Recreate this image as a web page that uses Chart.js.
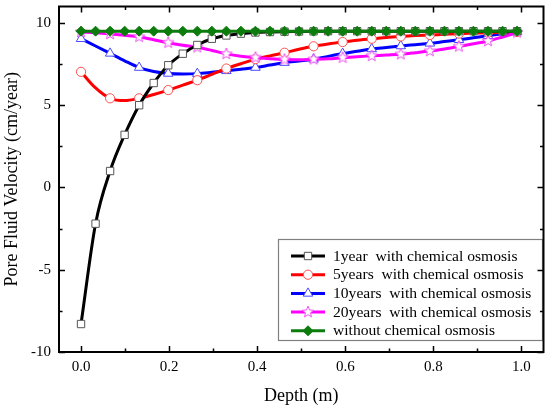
<!DOCTYPE html>
<html>
<head>
<meta charset="utf-8">
<script src="https://cdn.jsdelivr.net/npm/chart.js@4.4.0/dist/chart.umd.min.js"></script>
<style>
  html, body { margin: 0; padding: 0; background: #fff; }
  #wrap { width: 550px; height: 409px; position: relative; }
</style>
</head>
<body>
<div id="wrap"><canvas id="chart"></canvas></div>
<script>
// depth (m) of every sample
const depth = [0, 0.033, 0.066, 0.099, 0.132, 0.165, 0.198, 0.231, 0.264, 0.297,
  0.33, 0.363, 0.396, 0.429, 0.462, 0.495, 0.528, 0.561, 0.594, 0.627,
  0.66, 0.693, 0.726, 0.759, 0.792, 0.825, 0.858, 0.891, 0.924, 0.957, 0.99];

// pore fluid velocity (cm/year)
const year1 = [-8.3, -2.2, 1.0, 3.2, 5.0, 6.35, 7.43, 8.13, 8.66, 9.04,
  9.24, 9.35, 9.42, 9.45, 9.47, 9.48, 9.49, 9.5, 9.5, 9.5,
  9.5, 9.5, 9.5, 9.5, 9.5, 9.5, 9.5, 9.5, 9.5, 9.5, 9.5];
const year5 = [7.03, 6.05, 5.42, 5.28, 5.42, 5.65, 5.92, 6.22, 6.52, 6.87,
  7.23, 7.52, 7.8, 8.0, 8.19, 8.4, 8.58, 8.72, 8.84, 8.95,
  9.04, 9.12, 9.18, 9.23, 9.27, 9.31, 9.35, 9.38, 9.41, 9.43, 9.45];
const year10 = [9.04, 8.6, 8.15, 7.7, 7.29, 7.05, 6.93, 6.9, 6.92, 7.0,
  7.09, 7.19, 7.29, 7.44, 7.59, 7.69, 7.79, 7.97, 8.14, 8.28,
  8.42, 8.51, 8.6, 8.68, 8.76, 8.87, 8.98, 9.1, 9.22, 9.34, 9.45];
const year20 = [9.45, 9.4, 9.33, 9.25, 9.16, 8.98, 8.8, 8.65, 8.52, 8.33,
  8.12, 7.98, 7.9, 7.83, 7.78, 7.77, 7.79, 7.82, 7.89, 7.95,
  8.0, 8.05, 8.1, 8.19, 8.29, 8.42, 8.57, 8.73, 8.9, 9.15, 9.42];
const noOsmosis = [9.5, 9.5, 9.5, 9.5, 9.5, 9.5, 9.5, 9.5, 9.5, 9.5,
  9.5, 9.5, 9.5, 9.5, 9.5, 9.5, 9.5, 9.5, 9.5, 9.5,
  9.5, 9.5, 9.5, 9.5, 9.5, 9.5, 9.5, 9.5, 9.5, 9.5, 9.5];

const legendLabels = [
  "1year  with chemical osmosis",
  "5years  with chemical osmosis",
  "10years  with chemical osmosis",
  "20years  with chemical osmosis",
  "without chemical osmosis"
];

const xTicks = [0, 0.2, 0.4, 0.6, 0.8, 1.0];
const xMinor = [0.1, 0.3, 0.5, 0.7, 0.9];
const yTicks = [-10, -5, 0, 5, 10];
const yMinor = [-7.5, -2.5, 2.5, 7.5];

const SERIF = '"Liberation Serif", "Times New Roman", serif';

// hollow five-point star used as marker for the 20 year curve
function makeStar() {
  const c = document.createElement("canvas");
  c.width = 14; c.height = 14;
  const g = c.getContext("2d");
  g.beginPath();
  for (let k = 0; k < 10; k++) {
    const r = k % 2 === 0 ? 6 : 2.6;
    const a = -Math.PI / 2 + k * Math.PI / 5;
    const px = 7 + r * Math.cos(a), py = 7 + r * Math.sin(a);
    if (k === 0) g.moveTo(px, py); else g.lineTo(px, py);
  }
  g.closePath();
  g.fillStyle = "#fff";
  g.fill();
  g.strokeStyle = "#f050f0";
  g.lineWidth = 1;
  g.stroke();
  return c;
}
const star = makeStar();

const toPoints = vals => depth.map((d, i) => ({ x: d, y: vals[i] }));
const everyOther = (r) => depth.map((d, i) => (i % 2 === 0 ? r : 0));

const series = [
  { label: legendLabels[0], data: year1, color: "#000000", style: "rect", radius: 5.2,
    fill: "#ffffff", edge: "#555555", every: false, order: 1 },
  { label: legendLabels[1], data: year5, color: "#ff0000", style: "circle", radius: 4.6,
    fill: "#ffffff", edge: "#ff5050", every: true, order: 3 },
  { label: legendLabels[2], data: year10, color: "#0000ff", style: "triangle", radius: 5.5,
    fill: "#ffffff", edge: "#4a4aff", every: true, order: 4 },
  { label: legendLabels[3], data: year20, color: "#ff00ff", style: star, radius: 5,
    fill: "#ffffff", edge: "#f050f0", every: true, order: 2 },
  { label: legendLabels[4], data: noOsmosis, color: "#0c7c0c", style: "rectRot", radius: 5,
    fill: "#0c7c0c", edge: "#0c7c0c", every: false, order: 0 }
];

// inward ticks on all four sides plus the box frame
const framePlugin = {
  id: "frame",
  afterDraw(chart) {
    const { ctx, chartArea: a, scales: { x, y } } = chart;
    ctx.save();
    ctx.strokeStyle = "#000";
    ctx.lineWidth = 1.5;
    ctx.beginPath();
    const tick = (vals, len, isX) => {
      vals.forEach(v => {
        if (isX) {
          const px = Math.round(x.getPixelForValue(v)) + 0.5;
          ctx.moveTo(px, a.bottom); ctx.lineTo(px, a.bottom - len);
          ctx.moveTo(px, a.top); ctx.lineTo(px, a.top + len);
        } else {
          const py = Math.round(y.getPixelForValue(v)) + 0.5;
          ctx.moveTo(a.left, py); ctx.lineTo(a.left + len, py);
          ctx.moveTo(a.right, py); ctx.lineTo(a.right - len, py);
        }
      });
    };
    tick(xTicks, 6, true);
    tick(xMinor, 3.5, true);
    tick(yTicks, 6, false);
    tick(yMinor, 3.5, false);
    ctx.stroke();
    ctx.lineWidth = 2;
    ctx.strokeRect(a.left, a.top, a.right - a.left, a.bottom - a.top);
    ctx.restore();
  }
};

// boxed legend in the lower right corner
const legendPlugin = {
  id: "boxLegend",
  beforeDraw(chart) {},
  afterDatasetsDraw(chart) {
    const ctx = chart.ctx;
    const left = 278, top = 239, w = 264, h = 101;
    ctx.save();
    ctx.fillStyle = "#fff";
    ctx.fillRect(left, top, w, h);
    ctx.strokeStyle = "#808080";
    ctx.lineWidth = 1.2;
    ctx.strokeRect(left + 0.5, top + 0.5, w, h);
    ctx.font = "15.6px " + SERIF;
    ctx.textBaseline = "middle";
    series.forEach((s, k) => {
      const cy = 256 + k * 18.7;
      ctx.strokeStyle = s.color;
      ctx.lineWidth = 3;
      ctx.beginPath();
      ctx.moveTo(291, cy); ctx.lineTo(325, cy);
      ctx.stroke();
      ctx.fillStyle = s.fill;
      ctx.strokeStyle = s.edge;
      ctx.lineWidth = 1;
      Chart.helpers.drawPoint(ctx, { pointStyle: s.style, radius: s.radius, rotation: 0, borderWidth: 1 }, 308, cy);
      ctx.fillStyle = "#000";
      ctx.fillText(s.label, 333, cy + 0.5);
    });
    ctx.restore();
  }
};

new Chart(document.getElementById("chart"), {
  type: "line",
  data: {
    datasets: series.map(s => ({
      label: s.label,
      data: toPoints(s.data),
      borderColor: s.color,
      backgroundColor: s.color,
      borderWidth: 3,
      cubicInterpolationMode: "monotone",
      pointStyle: s.style,
      pointRadius: s.every ? everyOther(s.radius) : s.radius,
      pointBackgroundColor: s.fill,
      pointBorderColor: s.edge,
      pointBorderWidth: 1,
      order: s.order
    }))
  },
  options: {
    responsive: true,
    maintainAspectRatio: false,
    animation: false,
    layout: { padding: { top: 4, right: 5, left: 0, bottom: 0 } },
    plugins: { legend: { display: false }, tooltip: { enabled: false } },
    scales: {
      x: {
        type: "linear",
        min: -0.05,
        max: 1.05,
        afterBuildTicks: s => { s.ticks = xTicks.map(v => ({ value: v })); },
        afterFit: s => { s.height = 57; s.paddingLeft = 0; s.paddingRight = 0; },
        grid: { display: false, drawTicks: false },
        border: { display: false },
        ticks: {
          autoSkip: false,
          maxRotation: 0,
          padding: 6,
          color: "#000",
          font: { family: SERIF, size: 15 },
          callback: v => Number(v).toFixed(1)
        },
        title: {
          display: true,
          text: "Depth (m)",
          color: "#000",
          font: { family: SERIF, size: 18 },
          padding: { top: 0, bottom: 2 }
        }
      },
      y: {
        min: -10,
        max: 11,
        afterBuildTicks: s => { s.ticks = yTicks.map(v => ({ value: v })); },
        afterFit: s => { s.width = 59; s.paddingTop = 0; s.paddingBottom = 0; },
        grid: { display: false, drawTicks: false },
        border: { display: false },
        ticks: {
          padding: 8,
          color: "#000",
          font: { family: SERIF, size: 15 },
          callback: v => String(v)
        },
        title: {
          display: true,
          text: "Pore Fluid Velocity (cm/year)",
          color: "#000",
          font: { family: SERIF, size: 18 },
          padding: { top: 1, bottom: 0 }
        }
      }
    }
  },
  plugins: [legendPlugin, framePlugin]
});
</script>
</body>
</html>
